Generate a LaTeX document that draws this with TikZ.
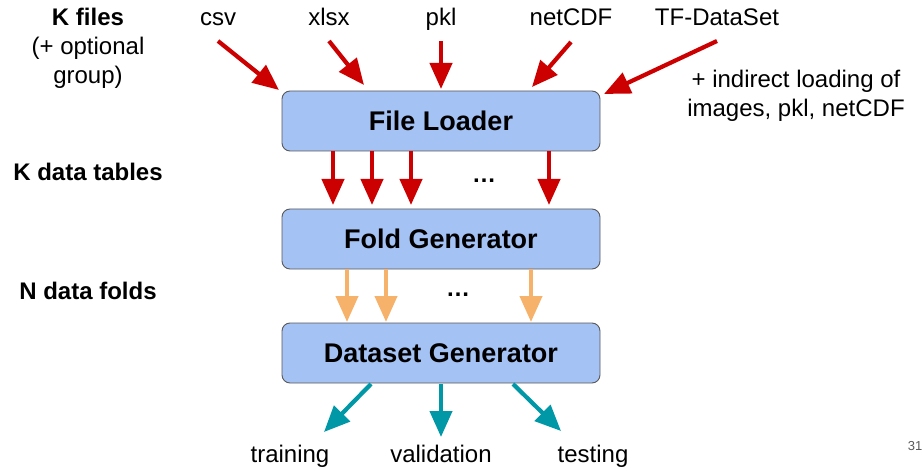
\documentclass[tikz,border=0pt]{standalone}
\usepackage{fontspec}
\setmainfont{Liberation Sans}
\usetikzlibrary{arrows.meta}
\definecolor{boxfill}{HTML}{A4C2F4}
\definecolor{boxline}{HTML}{595959}
\definecolor{redarr}{HTML}{CC0000}
\definecolor{orangearr}{HTML}{F6B26B}
\definecolor{tealarr}{HTML}{0097A7}
\tikzset{
  procbox/.style={draw=boxline, line width=0.9pt, fill=boxfill, rounded corners=8pt,
    minimum width=318pt, minimum height=60pt, inner sep=0pt,
    font=\fontsize{27}{30}\selectfont\bfseries},
  lbl/.style={anchor=base, inner sep=0pt, font=\fontsize{24}{30}\selectfont},
  blbl/.style={lbl, font=\fontsize{24}{30}\selectfont\bfseries},
  flowhead/.style={line width=4.2pt, -{Triangle[length=26pt,width=22pt]}},
  redflow/.style={draw=redarr, flowhead},
  orangeflow/.style={draw=orangearr, flowhead},
  tealflow/.style={draw=tealarr, flowhead}
}
\begin{document}
\begin{tikzpicture}[x=1pt,y=-1pt]
\useasboundingbox (0,0) rectangle (922,476);
% boxes
\node[procbox] (fl) at (441,121) {File Loader};
\node[procbox] (fg) at (441,239) {Fold Generator};
\node[procbox] (dg) at (441,353) {Dataset Generator};
% left labels
\node[blbl] (kf) at (88,26) {K files};
\node[lbl] (opt1) at (88,55) {(+ optional};
\node[lbl] (opt2) at (88,84) {group)};
\node[blbl] (kdt) at (88,181) {K data tables};
\node[blbl] (ndf) at (88,299) {N data folds};
% top labels
\node[lbl] (csv) at (218,26) {csv};
\node[lbl] (xlsx) at (329,26) {xlsx};
\node[lbl] (pkl) at (441,26) {pkl};
\node[lbl] (nc) at (571,26) {netCDF};
\node[lbl] (tf) at (717,26) {TF-DataSet};
\node[lbl] (ind1) at (796,88) {+ indirect loading of};
\node[lbl] (ind2) at (796,117) {images, pkl, netCDF};
% dots
\node[blbl] (dots1) at (484,183) {…};
\node[blbl] (dots2) at (458,296) {…};
% bottom labels
\node[lbl] (tr) at (290,462) {training};
\node[lbl] (va) at (441,462) {validation};
\node[lbl] (te) at (593,462) {testing};
\node[anchor=base, inner sep=0pt, text=boxline, font=\fontsize{13}{15}\selectfont] (pg) at (915,450) {31};
% input arrow coordinates
\coordinate (csvS) at (218,41); \coordinate (csvE) at (279,90);
\coordinate (xlsxS) at (329,41); \coordinate (xlsxE) at (364,85);
\coordinate (pklS) at (441,41); \coordinate (pklE) at (441,89);
\coordinate (ncS) at (571,42); \coordinate (ncE) at (532,87);
\coordinate (tfS) at (717,41); \coordinate (tfE) at (604,94);
\draw[redflow] (csvS) -- (csvE);
\draw[redflow] (xlsxS) -- (xlsxE);
\draw[redflow] (pklS) -- (pklE);
\draw[redflow] (ncS) -- (ncE);
\draw[redflow] (tfS) -- (tfE);
% file loader -> fold generator
\foreach \xx in {333,372,411,549}{
  \draw[redflow] (\xx,151) -- (\xx,205);
}
% fold generator -> dataset generator
\foreach \xx in {347,386,531}{
  \draw[orangeflow] (\xx,269) -- (\xx,322);
}
% outputs
\coordinate (o1S) at (371,384); \coordinate (o1E) at (324,432);
\coordinate (o2S) at (441,384); \coordinate (o2E) at (441,437);
\coordinate (o3S) at (513,384); \coordinate (o3E) at (561,431);
\draw[tealflow] (o1S) -- (o1E);
\draw[tealflow] (o2S) -- (o2E);
\draw[tealflow] (o3S) -- (o3E);
\end{tikzpicture}
\end{document}
